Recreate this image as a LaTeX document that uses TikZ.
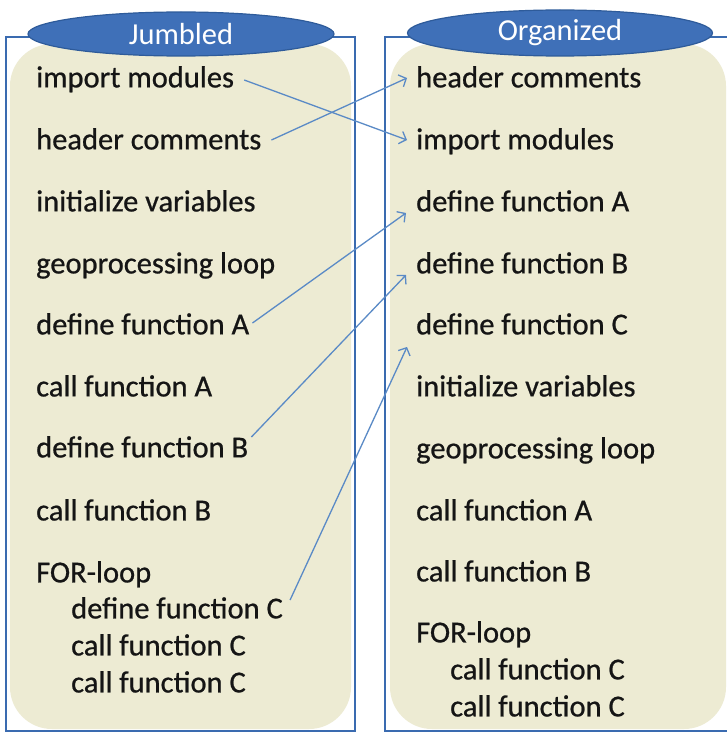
\documentclass[tikz,border=0pt]{standalone}
\usepackage{fontspec}
\setmainfont{Carlito}
\newfontfamily\itemfont{Carlito}[FakeBold=0.7]
\usetikzlibrary{shapes.geometric,arrows.meta}
\definecolor{panelfill}{HTML}{EDEBD3}
\definecolor{frameblue}{HTML}{3A6BB0}
\definecolor{ellfill}{HTML}{3F70B8}
\definecolor{ellline}{HTML}{2E5B9A}
\definecolor{connblue}{HTML}{5A8AC6}
\definecolor{txt}{HTML}{151515}
\tikzset{
  panel/.style={fill=panelfill, draw=none, rounded corners=42pt},
  frame/.style={draw=frameblue, line width=2.6pt},
  title/.style={ellipse, fill=ellfill, draw=ellline, line width=1.2pt, inner sep=0pt,
    text=white, font=\fontsize{30.5}{34}\selectfont},
  item/.style={anchor=mid west, inner sep=0pt, text=txt, font=\itemfont\fontsize{30.5}{34}\selectfont},
  conn/.style={draw=connblue, line width=1.3pt, -{Straight Barb[length=6pt,width=13pt,line width=1.3pt]}}
}
\begin{document}
\begin{tikzpicture}[x=1pt,y=-1pt]
\useasboundingbox (0,0) rectangle (727,733);
\clip (0,0) rectangle (727,733);
\fill[white] (0,0) rectangle (727,733);
% panels
\path[panel] (10,44) rectangle (351,729);
\path[panel] (390,44) rectangle (726,729);
% frames
\draw[frame] (6,37) rectangle (355,731);
\draw[frame] (385,37) rectangle (770,731);
% titles
\node[title, minimum width=306pt, minimum height=44pt] (tl) at (181,34) {Jumbled};
\node[title, minimum width=305pt, minimum height=46pt] (tr) at (560,33) {Organized};
% left items
\node[item] (Limp) at (36,85) {import modules};
\node[item] (Lhdr) at (36,147) {header comments};
\node[item] (Lini) at (36,209) {initialize variables};
\node[item] (Lgeo) at (36,271) {geoprocessing loop};
\node[item] (Ldfa) at (36,332) {define function A};
\node[item] (Lcfa) at (36,394) {call function A};
\node[item] (Ldfb) at (36,455) {define function B};
\node[item] (Lcfb) at (36,518) {call function B};
\node[item] (Lfor) at (36,580) {FOR-loop};
\node[item] (Ldfc) at (71,616) {define function C};
\node[item] (Lcc1) at (71,653) {call function C};
\node[item] (Lcc2) at (71,690) {call function C};
% right items
\node[item] (Rhdr) at (416,85) {header comments};
\node[item] (Rimp) at (416,147) {import modules};
\node[item] (Rdfa) at (416,209) {define function A};
\node[item] (Rdfb) at (416,271) {define function B};
\node[item] (Rdfc) at (416,332) {define function C};
\node[item] (Rini) at (416,394) {initialize variables};
\node[item] (Rgeo) at (416,456) {geoprocessing loop};
\node[item] (Rcfa) at (416,518) {call function A};
\node[item] (Rcfb) at (416,579) {call function B};
\node[item] (Rfor) at (416,640) {FOR-loop};
\node[item] (Rcc1) at (450,677) {call function C};
\node[item] (Rcc2) at (450,714) {call function C};
% connectors
\draw[conn] ([xshift=10pt,yshift=5pt]Limp.mid east) -- ([xshift=-9pt,yshift=7pt]Rimp.mid west);
\draw[conn] ([xshift=10pt,yshift=7pt]Lhdr.mid east) -- ([xshift=-9pt,yshift=7pt]Rhdr.mid west);
\draw[conn] ([xshift=3pt,yshift=9pt]Ldfa.mid east) -- ([xshift=-10pt,yshift=-4pt]Rdfa.mid west);
\draw[conn] ([xshift=3pt,yshift=18pt]Ldfb.mid east) -- ([xshift=-10pt,yshift=-4pt]Rdfb.mid west);
\draw[conn] ([xshift=7pt,yshift=16pt]Ldfc.mid east) -- ([xshift=-9pt,yshift=-15pt]Rdfc.mid west);
\end{tikzpicture}
\end{document}
